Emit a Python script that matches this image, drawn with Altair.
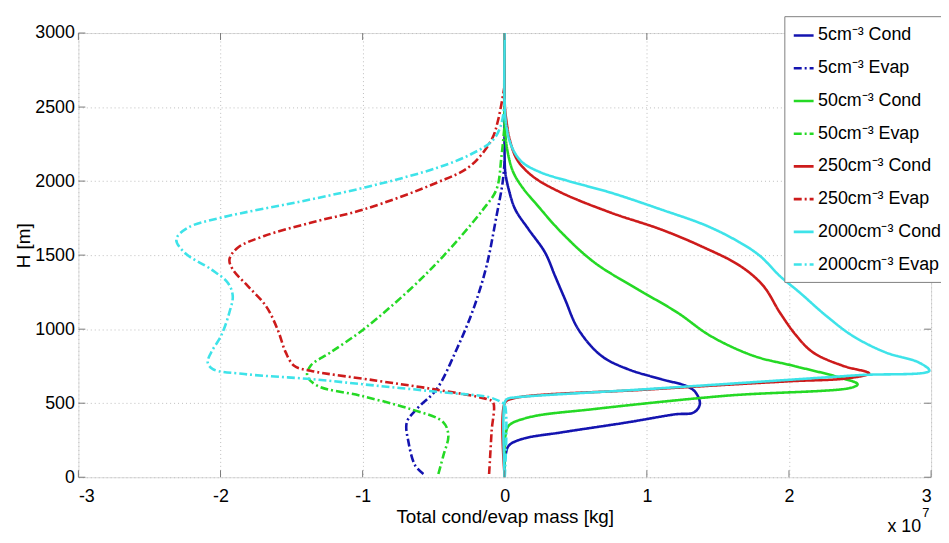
import altair as alt
import pandas as pd

# ---- data (mass in units of 1e7 kg, height in m) ----
series_names = ["5cm⁻³ Cond", "5cm⁻³ Evap", "50cm⁻³ Cond", "50cm⁻³ Evap",
                "250cm⁻³ Cond", "250cm⁻³ Evap", "2000cm⁻³ Cond", "2000cm⁻³ Evap"]
series_colors = ["#1414b0", "#1414b0", "#25d925", "#25d925",
                 "#cd1b1b", "#cd1b1b", "#3ee3e9", "#3ee3e9"]
series_dashes = [[1, 0], [8, 3, 2, 3], [1, 0], [8, 3, 2, 3],
                 [1, 0], [8, 3, 2, 3], [1, 0], [8, 3, 2, 3]]

cond5_x = [0, 0, 0.005, 0.028, 0.121, 0.4, 0.866, 1.2, 1.331, 1.373, 1.343, 1.285, 1.098, 0.866, 0.68, 0.517, 0.424, 0.354, 0.284, 0.168, 0.074, 0.028, 0.005, 0, 0]
cond5_y = [0, 120, 146, 213, 258, 303, 371, 425, 438, 494, 573, 613, 663, 730, 820, 1000, 1202, 1359, 1517, 1674, 1809, 1944, 2050, 2122, 3000]

evap5_x = [-0.572, -0.63, -0.677, -0.689, -0.619, -0.479, -0.338, -0.221, -0.128, -0.058, -0.015, 0]
evap5_y = [22, 79, 236, 371, 461, 595, 865, 1135, 1427, 1764, 1990, 2140]

cond50_x = [0, 0, 0.005, 0.028, 0.168, 0.633, 1.564, 2.448, 2.483, 2.355, 2.029, 1.75, 1.447, 1.215, 0.935, 0.633, 0.4, 0.214, 0.13, 0.06, 0.02, 0, 0]
cond50_y = [0, 250, 281, 348, 404, 461, 551, 607, 629, 674, 753, 820, 955, 1112, 1270, 1449, 1652, 1854, 1950, 2060, 2200, 2380, 3000]

evap50_x = [-0.467, -0.432, -0.397, -0.432, -0.665, -1.016, -1.319, -1.39, -1.366, -1.226, -0.992, -0.665, -0.432, -0.152, -0.058, -0.023, 0]
evap50_y = [22, 146, 281, 371, 461, 551, 618, 685, 753, 843, 1000, 1270, 1494, 1809, 1944, 2167, 2389]

cond250_x = [0, 0, 0.05, 1.0, 2.0, 2.40, 2.565, 2.378, 2.169, 2.053, 1.936, 1.82, 1.657, 1.378, 1.098, 0.749, 0.4, 0.2, 0.09, 0.035, 0.01, 0, 0]
cond250_y = [0, 500, 530, 592, 648, 667, 701, 753, 843, 955, 1112, 1292, 1427, 1562, 1674, 1786, 1921, 2030, 2140, 2280, 2420, 2520, 3000]

evap250_x = [-0.11, -0.093, -0.082, -0.128, -0.502, -0.899, -1.366, -1.482, -1.541, -1.599, -1.681, -1.809, -1.914, -1.937, -1.879, -1.693, -1.366, -0.992, -0.479, -0.245, -0.093, -0.047, 0]
evap250_y = [22, 303, 506, 528, 595, 652, 719, 753, 843, 1000, 1157, 1292, 1404, 1472, 1550, 1629, 1719, 1809, 1989, 2100, 2278, 2411, 2650]

cond2000_x = [0, 0, 0.02, 0.074, 1.0, 2.0, 2.5, 2.988, 2.914, 2.68, 2.448, 2.262, 2.076, 1.936, 1.797, 1.657, 1.424, 1.098, 0.749, 0.45, 0.25, 0.12, 0.05, 0.015, 0, 0]
cond2000_y = [0, 506, 530, 539, 595, 658, 690, 719, 775, 843, 955, 1090, 1247, 1359, 1494, 1584, 1697, 1809, 1921, 2000, 2060, 2130, 2230, 2350, 2500, 3000]

evap2000_x = [0, 0, -0.023, -0.105, -0.432, -0.899, -1.366, -1.833, -2.054, -2.09, -2.066, -1.996, -1.938, -1.914, -1.949, -2.066, -2.253, -2.311, -2.23, -1.996, -1.366, -0.899, -0.479, -0.245, -0.082, -0.023, 0]
evap2000_y = [0, 490, 506, 539, 573, 618, 663, 697, 730, 775, 843, 955, 1112, 1225, 1314, 1404, 1517, 1607, 1685, 1753, 1876, 1977, 2089, 2178, 2278, 2389, 2550]

all_x = [cond5_x, evap5_x, cond50_x, evap50_x, cond250_x, evap250_x, cond2000_x, evap2000_x]
all_y = [cond5_y, evap5_y, cond50_y, evap50_y, cond250_y, evap250_y, cond2000_y, evap2000_y]

x_ticks = [-3, -2, -1, 0, 1, 2, 3]
y_ticks = [0, 500, 1000, 1500, 2000, 2500, 3000]
x_title = "Total cond/evap mass [kg]"
y_title = "H [m]"
exp_base = "x 10"
exp_power = "7"

rows = []
for name, xs, ys in zip(series_names, all_x, all_y):
    for i, (xv, yv) in enumerate(zip(xs, ys)):
        rows.append({"series": name, "x": xv, "y": yv, "i": i})
df = pd.DataFrame(rows)

W, H = 860, 448
FONT = "Liberation Sans"

xscale = alt.Scale(domain=[-3, 3], nice=False, zero=False)
yscale = alt.Scale(domain=[0, 3000], nice=False, zero=False)
cscale = alt.Scale(domain=series_names, range=series_colors)
dscale = alt.Scale(domain=series_names, range=series_dashes)

xaxis = alt.Axis(values=x_ticks, labelExpr="'' + datum.value", title=x_title,
                 grid=True, gridDash=[1, 3], gridColor="#bdbdbd", ticks=False,
                 domain=False, labelFontSize=18, titleFontSize=19, labelPadding=10,
                 titleY=40, titleBaseline="middle", titleFontWeight="normal",
                 labelColor="black", titleColor="black", labelFont=FONT, titleFont=FONT)
yaxis = alt.Axis(values=y_ticks, format="d", title=y_title,
                 grid=True, gridDash=[1, 3], gridColor="#bdbdbd", ticks=False,
                 domain=False, labelFontSize=18, titleFontSize=19, labelPadding=4,
                 titleX=-55, titleY=H / 2 - 10, titleAngle=-90, titleBaseline="middle",
                 titleAlign="center", titleFontWeight="normal",
                 labelColor="black", titleColor="black", labelFont=FONT, titleFont=FONT)

legend = alt.Legend(
    title=None, orient="none", legendX=712, legendY=-17, direction="vertical",
    fillColor="white", strokeColor="#808080", padding=8, rowPadding=12,
    labelFontSize=18, labelFont=FONT, labelColor="black", labelLimit=300,
    symbolType="stroke", symbolSize=400, symbolStrokeWidth=2.6, labelOffset=3,
    cornerRadius=0,
)

base = alt.Chart(df)
layers = []
for name in series_names:
    layers.append(
        base.transform_filter(alt.datum.series == name)
        .mark_line(strokeWidth=2.6, clip=True, interpolate="catmull-rom")
        .encode(
            x=alt.X("x:Q", scale=xscale, axis=xaxis),
            y=alt.Y("y:Q", scale=yscale, axis=yaxis),
            color=alt.Color("series:N", scale=cscale, legend=legend),
            strokeDash=alt.StrokeDash("series:N", scale=dscale, legend=legend),
            order=alt.Order("i:Q"),
        )
    )

# inward tick marks on all four sides
xt = alt.Chart(pd.DataFrame({"x": x_ticks}))
yt = alt.Chart(pd.DataFrame({"y": y_ticks}))
tick_color = "#7a7a7a"
ticks = [
    xt.mark_rule(color=tick_color).encode(x=alt.X("x:Q", scale=xscale, axis=xaxis), y=alt.value(H), y2=alt.value(H - 7)),
    xt.mark_rule(color=tick_color).encode(x=alt.X("x:Q", scale=xscale, axis=xaxis), y=alt.value(0), y2=alt.value(7)),
    yt.mark_rule(color=tick_color).encode(y=alt.Y("y:Q", scale=yscale, axis=yaxis), x=alt.value(0), x2=alt.value(7)),
    yt.mark_rule(color=tick_color).encode(y=alt.Y("y:Q", scale=yscale, axis=yaxis), x=alt.value(W), x2=alt.value(W - 7)),
]

txt = alt.Chart(pd.DataFrame({"a": [exp_base], "b": [exp_power]}))
exp_layers = [
    txt.mark_text(align="right", baseline="middle", fontSize=18, font=FONT, color="black")
    .encode(text="a:N", x=alt.value(W - 10), y=alt.value(H + 50)),
    txt.mark_text(align="left", baseline="middle", fontSize=13, font=FONT, color="black")
    .encode(text="b:N", x=alt.value(W - 9), y=alt.value(H + 36)),
]

chart = alt.layer(*layers, *ticks, *exp_layers).properties(
    width=W, height=H,
    autosize=alt.AutoSizeParams(type="none"),
    padding={"left": 71, "top": 23, "right": 10, "bottom": 56},
).configure_view(
    stroke="#7a7a7a", strokeWidth=1
).configure(background="white")

chart.save("out.html", embed_options={"renderer": "svg", "actions": False})
